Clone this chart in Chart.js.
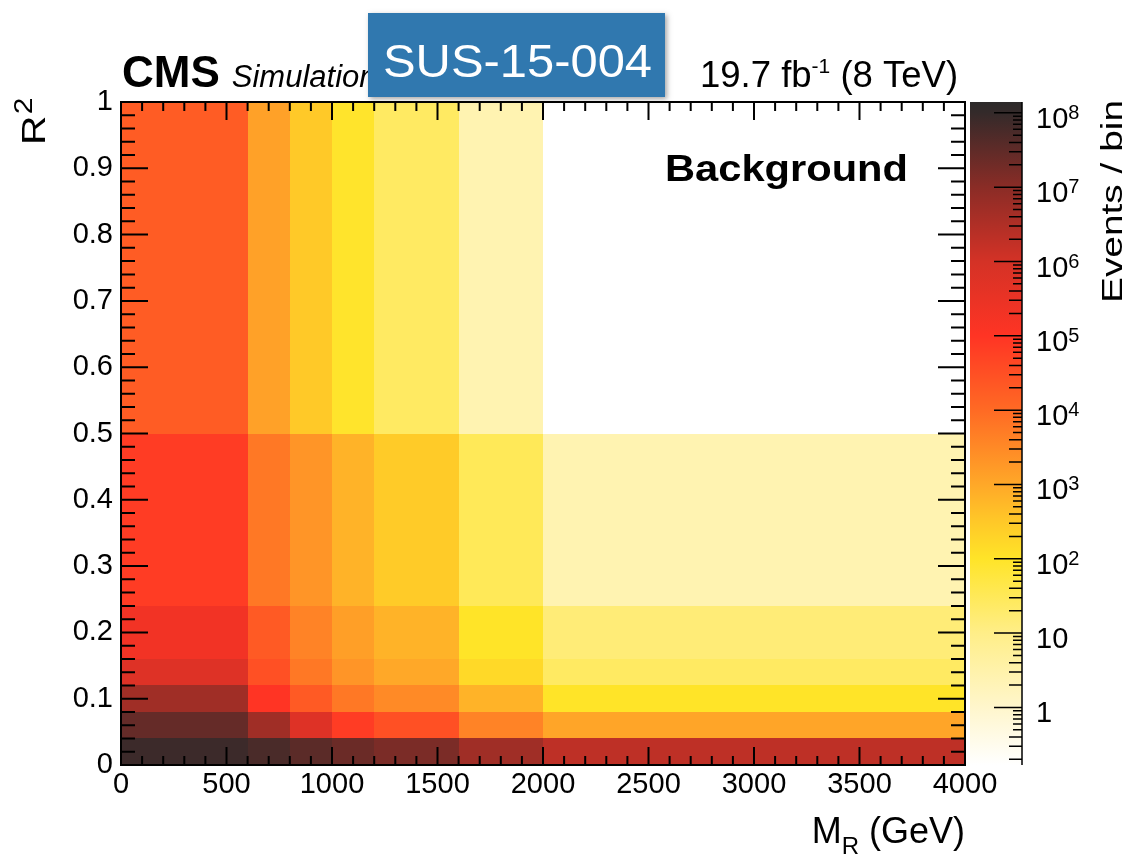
<!DOCTYPE html>
<html>
<head>
<meta charset="utf-8">
<title>SUS-15-004 Background</title>
<script src="https://cdn.jsdelivr.net/npm/chart.js@4.4.1/dist/chart.umd.min.js"></script>
<style>
  html, body { margin: 0; padding: 0; background: #fff; }
  #wrap { position: relative; width: 1134px; height: 855px; }
</style>
</head>
<body>
<div id="wrap"><canvas id="chartFondo"></canvas></div>
<script>
// bordes de los bins
const mrEdges = [0, 600, 800, 1000, 1200, 1600, 2000, 4000]
const r2Edges = [0, 0.04, 0.08, 0.12, 0.16, 0.24, 0.5, 1]

// eventos por bin: una fila por bin de R2 (de abajo a arriba), un valor por bin de MR
const eventosR2_000 = [8e7, 5.5e7, 3.5e7, 2.3e7, 1.5e7, 5e6, 2e6]
const eventosR2_004 = [2.7e7, 5e6, 6e5, 7e4, 3e4, 4e3, 1.1e3]
const eventosR2_008 = [5e6, 1e5, 2e4, 6e3, 3e3, 680, 100]
const eventosR2_012 = [6e5, 3e4, 6e3, 2e3, 1e3, 160, 25]
const eventosR2_016 = [2e5, 2e4, 4e3, 1.4e3, 680, 100, 15]
const eventosR2_024 = [7e4, 6e3, 2e3, 680, 280, 32, 2.5]
const eventosR2_050 = [1.8e4, 1.3e3, 300, 90, 25, 2.5, 0]
const filas = [eventosR2_000, eventosR2_004, eventosR2_008, eventosR2_012, eventosR2_016, eventosR2_024, eventosR2_050]

const xTickLabels = ["0", "500", "1000", "1500", "2000", "2500", "3000", "3500", "4000"]
const yTickLabels = ["0", "0.1", "0.2", "0.3", "0.4", "0.5", "0.6", "0.7", "0.8", "0.9", "1"]
const zExponentes = [0, 1, 2, 3, 4, 5, 6, 7, 8]
const zTickBase = ["1", "10", "10", "10", "10", "10", "10", "10", "10"]
const zTickSup = ["", "", "2", "3", "4", "5", "6", "7", "8"]

// paleta (log10 del valor -> color)
const paleta = [
  [-0.78, [255, 255, 255]],
  [0, [255, 246, 204]],
  [1, [255, 238, 136]],
  [2, [255, 228, 40]],
  [2.5, [255, 200, 40]],
  [3, [255, 168, 40]],
  [4, [255, 106, 36]],
  [5, [255, 52, 36]],
  [6, [212, 50, 38]],
  [7, [138, 44, 38]],
  [8, [52, 42, 42]],
  [8.15, [44, 42, 42]],
]

function colorPara(v) {
  const l = Math.log10(v)
  if (l <= paleta[0][0]) return "rgb(" + paleta[0][1].join(",") + ")"
  for (let k = 1; k < paleta.length; k++) {
    if (l <= paleta[k][0]) {
      const a = paleta[k - 1], b = paleta[k]
      const t = (l - a[0]) / (b[0] - a[0])
      const c = a[1].map((ch, i) => Math.round(ch + (b[1][i] - ch) * t))
      return "rgb(" + c.join(",") + ")"
    }
  }
  return "rgb(" + paleta[paleta.length - 1][1].join(",") + ")"
}

const FUENTE = '"Liberation Sans", Arial, Helvetica, sans-serif'

function texto(ctx, str, x, y, font, ancho, align, rot) {
  ctx.save()
  ctx.font = font
  const w = ctx.measureText(str).width
  const s = ancho ? ancho / w : 1
  ctx.translate(x, y)
  if (rot) ctx.rotate(rot)
  ctx.scale(s, 1)
  ctx.textAlign = align || "left"
  ctx.textBaseline = "alphabetic"
  ctx.fillText(str, 0, 0)
  ctx.restore()
  return w * s
}

const heatmapPlugin = {
  id: "heatmap",
  beforeDatasetsDraw(chart) {
    const { ctx, scales } = chart
    const x = scales.x, y = scales.y
    ctx.save()
    filas.forEach((fila, j) => {
      fila.forEach((v, i) => {
        if (!v) return
        const x0 = Math.round(x.getPixelForValue(mrEdges[i]))
        const x1 = Math.round(x.getPixelForValue(mrEdges[i + 1]))
        const y0 = Math.round(y.getPixelForValue(r2Edges[j]))
        const y1 = Math.round(y.getPixelForValue(r2Edges[j + 1]))
        ctx.fillStyle = colorPara(v)
        ctx.fillRect(x0, y1, x1 - x0, y0 - y1)
      })
    })
    ctx.restore()
  },
  afterDraw(chart) {
    const { ctx, chartArea: ca, scales } = chart
    const x = scales.x, y = scales.y, z = scales.z
    ctx.save()
    ctx.strokeStyle = "#000"
    ctx.lineWidth = 2

    // marco
    ctx.strokeRect(ca.left, ca.top, ca.right - ca.left, ca.bottom - ca.top)

    // ticks del eje x (abajo y arriba, hacia dentro)
    ctx.beginPath()
    for (let v = 0; v <= 4000; v += 100) {
      const px = x.getPixelForValue(v)
      const len = v % 500 === 0 ? 18 : 9
      ctx.moveTo(px, ca.bottom); ctx.lineTo(px, ca.bottom - len)
      ctx.moveTo(px, ca.top); ctx.lineTo(px, ca.top + len)
    }
    // ticks del eje y (izquierda y derecha)
    for (let k = 0; k <= 50; k++) {
      const py = y.getPixelForValue(k * 0.02)
      const len = k % 5 === 0 ? 27 : 14
      ctx.moveTo(ca.left, py); ctx.lineTo(ca.left + len, py)
      ctx.moveTo(ca.right, py); ctx.lineTo(ca.right - len, py)
    }
    ctx.stroke()

    // barra de color
    const cbL = ca.right + 5, cbR = ca.right + 57
    const p0 = z.getPixelForValue(z.min), p1 = z.getPixelForValue(z.max)
    const grad = ctx.createLinearGradient(0, p0, 0, p1)
    paleta.forEach(([l, c]) => {
      const py = z.getPixelForValue(Math.pow(10, l))
      let t = (py - p0) / (p1 - p0)
      t = Math.min(1, Math.max(0, t))
      grad.addColorStop(t, "rgb(" + c.join(",") + ")")
    })
    ctx.fillStyle = grad
    ctx.fillRect(cbL, z.top, cbR - cbL, z.bottom - z.top)
    ctx.lineWidth = 1.5
    ctx.beginPath()
    ctx.moveTo(cbR, z.top); ctx.lineTo(cbR, z.bottom)
    for (let e = -1; e <= 8; e++) {
      for (let m = 1; m <= 9; m++) {
        const v = m * Math.pow(10, e)
        if (v < z.min || v > z.max) continue
        const py = z.getPixelForValue(v)
        const len = m === 1 ? 28 : (m <= 4 ? 13 : 9)
        ctx.moveTo(cbR, py); ctx.lineTo(cbR - len, py)
      }
    }
    ctx.stroke()

    // etiquetas de la barra de color
    ctx.fillStyle = "#000"
    zExponentes.forEach((e, i) => {
      const py = z.getPixelForValue(Math.pow(10, e))
      const w = texto(ctx, zTickBase[i], cbR + 14, py + 15, "29px " + FUENTE)
      if (zTickSup[i]) texto(ctx, zTickSup[i], cbR + 14 + w, py + 6, "20px " + FUENTE)
    })

    // títulos de ejes
    texto(ctx, "Events / bin", 1122, 303, "30px " + FUENTE, 203, "left", -Math.PI / 2)
    // R^2
    ctx.save()
    ctx.translate(45, 145)
    ctx.rotate(-Math.PI / 2)
    ctx.font = "34px " + FUENTE
    const wR = ctx.measureText("R").width
    ctx.scale(1.2, 1)
    ctx.fillText("R", 0, 0)
    ctx.font = "25px " + FUENTE
    ctx.fillText("2", wR + 1, -13)
    ctx.restore()
    // M_R (GeV)
    ctx.font = "36px " + FUENTE
    const wGeV = ctx.measureText(" (GeV)").width
    const xGeV = 965 - wGeV
    ctx.fillText(" (GeV)", xGeV, 843)
    ctx.font = "24px " + FUENTE
    const wSub = ctx.measureText("R").width
    ctx.fillText("R", xGeV - wSub, 854)
    ctx.font = "36px " + FUENTE
    const wM = ctx.measureText("M").width
    ctx.fillText("M", xGeV - wSub - wM, 843)

    // textos de cabecera
    const wCMS = texto(ctx, "CMS", 122, 87, "bold 44px " + FUENTE)
    texto(ctx, "Simulation", 122 + wCMS + 12, 87, "italic 31px " + FUENTE)
    let xl = 700
    xl += texto(ctx, "19.7 fb", xl, 87, "36.5px " + FUENTE)
    xl += texto(ctx, "-1", xl, 73, "21px " + FUENTE)
    texto(ctx, " (8 TeV)", xl, 87, "36.5px " + FUENTE)
    texto(ctx, "Background", 665, 181, "bold 37px " + FUENTE, 243)

    // recuadro azul
    ctx.save()
    ctx.shadowColor = "rgba(0,0,0,0.35)"
    ctx.shadowBlur = 5
    ctx.shadowOffsetX = 2
    ctx.shadowOffsetY = 2
    ctx.fillStyle = "#3078AF"
    ctx.fillRect(368, 13, 297, 84)
    ctx.restore()
    ctx.fillStyle = "#fff"
    texto(ctx, "SUS-15-004", 383, 77, "46px " + FUENTE, 269)
    ctx.restore()
  },
}

const ctx = document.getElementById("chartFondo")

new Chart(ctx, {
  type: "scatter",
  data: {
    datasets: [
      {
        label: "Background",
        data: [],
        pointRadius: 0,
      },
    ],
  },
  options: {
    responsive: true,
    maintainAspectRatio: false,
    animation: false,
    layout: { padding: { top: 102, left: 0, right: 0, bottom: 0 } },
    plugins: { legend: { display: false }, tooltip: { enabled: false } },
    scales: {
      x: {
        type: "linear",
        min: 0,
        max: 4000,
        position: "bottom",
        grid: { display: false, drawTicks: false },
        border: { display: false },
        ticks: {
          stepSize: 500,
          autoSkip: false,
          maxRotation: 0,
          padding: 3,
          color: "#000",
          font: { family: FUENTE, size: 29 },
          callback: (v, i) => xTickLabels[i],
        },
        afterFit: (s) => { s.height = 90 },
      },
      y: {
        type: "linear",
        min: 0,
        max: 1,
        position: "left",
        grid: { display: false, drawTicks: false },
        border: { display: false },
        ticks: {
          stepSize: 0.1,
          autoSkip: false,
          padding: 8,
          color: "#000",
          font: { family: FUENTE, size: 29 },
          callback: (v, i) => yTickLabels[i],
        },
        afterFit: (s) => { s.width = 121 },
      },
      z: {
        type: "logarithmic",
        min: 0.168,
        max: 1.4e8,
        position: "right",
        grid: { display: false, drawTicks: false },
        border: { display: false },
        ticks: { display: false },
        afterFit: (s) => { s.width = 169 },
      },
    },
  },
  plugins: [heatmapPlugin],
})
</script>
</body>
</html>
